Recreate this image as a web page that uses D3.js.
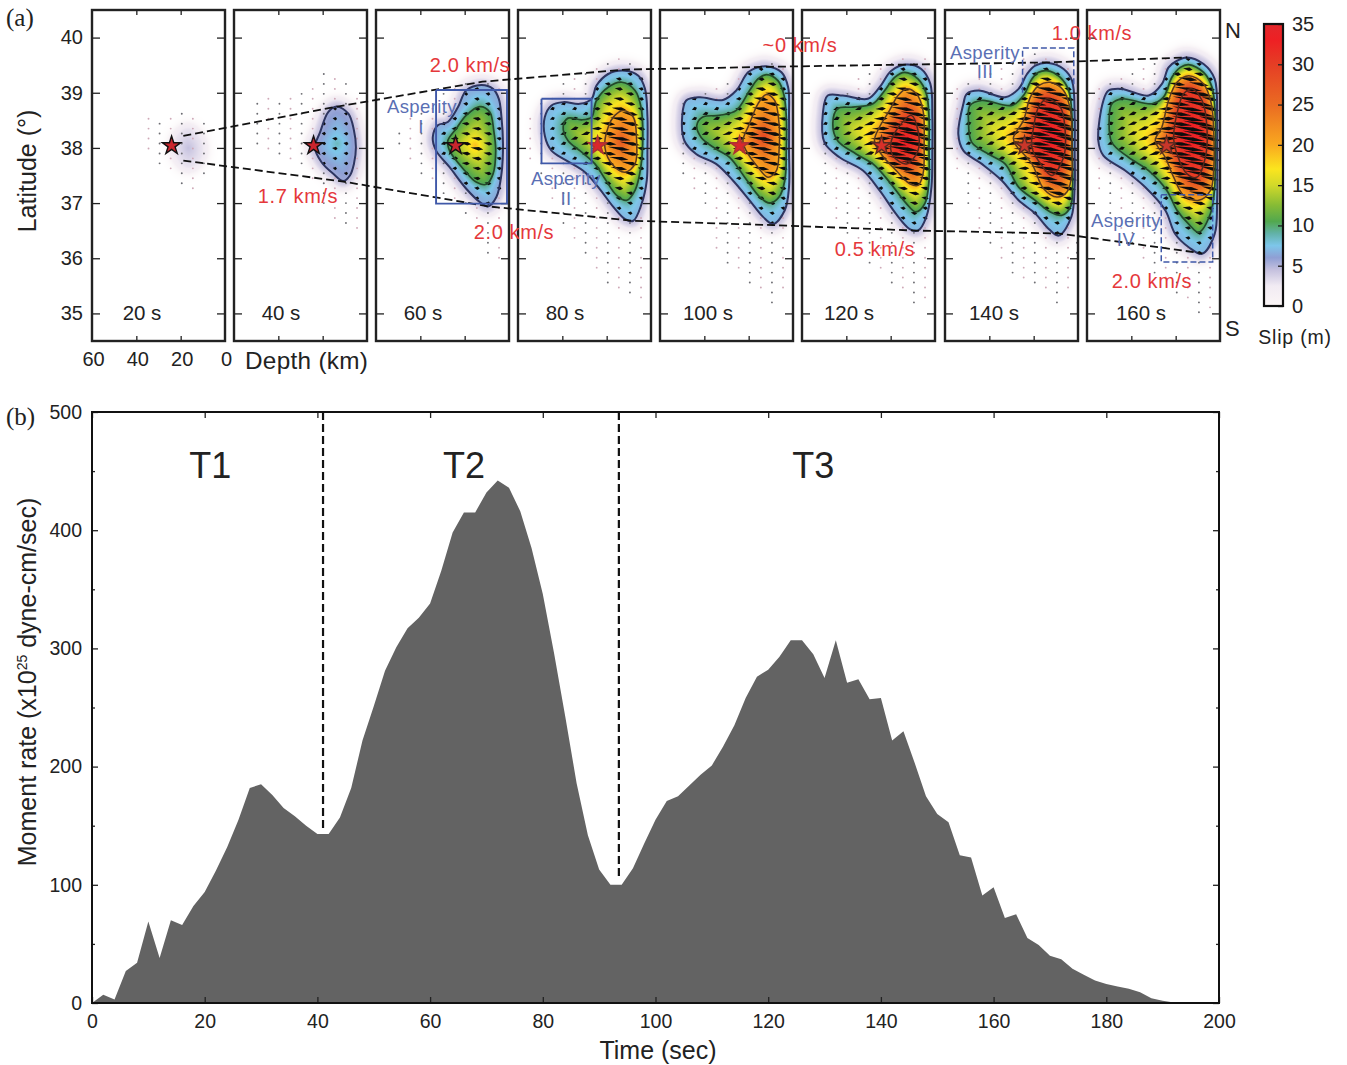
<!DOCTYPE html>
<html>
<head>
<meta charset="utf-8">
<style>
  html, body { margin: 0; padding: 0; background: #fff; }
  text { font-family: "Liberation Sans", Arial, sans-serif; fill: #222; }
  .axis path.domain { display: none; }
  .axis line { stroke: #222; stroke-width: 1.3; }
</style>
<script src="https://d3js.org/d3.v7.min.js"></script>
</head>
<body>
<div id="chart"></div>
<script>
// ---- moment rate curve, panel (b)
var timeSec = [0,2,4,6,8,10,12,14,16,18,20,22,24,26,28,30,32,34,36,38,40,42,44,46,48,50,52,54,56,58,60,62,64,66,68,70,72,74,76,78,80,82,84,86,88,90,92,94,96,98,100,102,104,106,108,110,112,114,116,118,120,122,124,126,128,130,132,134,136,138,140,142,144,146,148,150,152,154,156,158,160,162,164,166,168,170,172,174,176,178,180,182,184,186,188,190,192,194,196,198,200];
var momentRate = [0,7,3,27,34,69,38,70,66,82,94,112,132,155,182,185,176,165,158,150,143,143,157,182,222,251,281,301,317,326,338,366,398,415,415,432,442,436,416,385,346,296,242,186,142,113,100,100,114,135,155,171,175,184,193,201,217,235,258,276,282,293,307,307,295,275,307,271,274,257,258,222,230,203,175,160,153,125,123,91,98,72,75,55,49,40,37,29,24,19,16,14,12,9,4,2,0.5,0,0,0,0];
var stageBreaks = [41, 93.5];
var stageBreakEnds = [145, 105];
var stageNames = ["T1", "T2", "T3"];
var stageNameTimes = [21, 66, 128];
var timeTicks = [0,20,40,60,80,100,120,140,160,180,200];
var rateTicks = [0,100,200,300,400,500];
var rateMinorTicks = [50,150,250,350,450];

// ---- snapshots, panel (a)
var snapshotLabels = ["20 s","40 s","60 s","80 s","100 s","120 s","140 s","160 s"];
var latTicks = [35,36,37,38,39,40];
var depthTicks = [60,40,20,0];
var slipTicks = [0,5,10,15,20,25,30,35];
var starDepth = 24.1;
var starLat = 38.04;

// slip level of each contour, outermost first (outer level differs in early frames)
var outerLevels = [3,5.5,6.5,7,7,7,7,7];
var innerLevels = [10,20,30];
var peakSlip = [4.5,8.5,19,27,29,34,35,35];

// contours as [depth km, latitude], outermost first
var contours20 = [
  [[16.6,38.3],[12,38.1],[12,37.85],[16.6,37.7],[21,37.9],[21,38.15]]
];
var contours40 = [
  [[13.7,38.75],[8.4,38.62],[5.9,38.32],[5,38.01],[5.9,37.71],[7.7,37.5],[10.7,37.4],[15.2,37.53],[20.5,37.74],[23.5,38.01],[21.2,38.28],[17.5,38.65]]
];
var contours60 = [
  [[12.5,39.14],[7.2,39.07],[4.6,38.89],[3.4,38.56],[2.7,38.07],[3.4,37.53],[5.7,37.11],[9.5,36.94],[13.2,37.02],[19.3,37.26],[26.8,37.65],[32.9,37.95],[34.4,38.19],[32.1,38.41],[27.6,38.47],[23,38.74],[19.3,39.04]],
  [[13.2,38.75],[8.7,38.65],[6.9,38.32],[6,37.95],[7.2,37.53],[10.2,37.34],[14.8,37.38],[20,37.59],[26.8,37.95],[27.6,38.13],[23.8,38.35],[19.3,38.59]]
];
var contours80 = [
  [[11.7,39.4],[5.7,39.31],[2.7,39.07],[1.6,38.56],[1.6,37.95],[1.9,37.41],[4.2,36.99],[8,36.68],[11.7,36.71],[17,36.93],[23.8,37.29],[29.8,37.56],[38.1,37.77],[44.9,37.95],[47.9,38.22],[47.9,38.56],[44.9,38.77],[39.6,38.83],[32.1,38.8],[26.8,38.89],[24.6,39.13],[19.3,39.34]],
  [[13.2,39.19],[7.2,39.04],[4.5,38.74],[3.7,38.25],[4.6,37.65],[7.2,37.23],[11,37.05],[15.5,37.14],[20.8,37.44],[25.3,37.71],[32.1,37.95],[37.4,38.13],[39.6,38.38],[37.4,38.54],[31.3,38.51],[26.8,38.56],[24.6,38.86],[19.3,39.1]],
  [[12.5,38.68],[8,38.56],[6.5,38.13],[7.2,37.71],[11.7,37.56],[17,37.68],[20.8,38.01],[19.3,38.38],[16.3,38.59]]
];
var contours100 = [
  [[12,39.48],[5.2,39.37],[2.2,39.1],[1.8,38.56],[1.8,37.95],[1.8,37.29],[3.7,36.87],[9,36.62],[13.5,36.75],[19.6,37.05],[27.1,37.41],[34.7,37.71],[43.7,37.89],[49,38.13],[50,38.56],[48.2,38.86],[42.2,38.92],[31.6,38.87],[25.6,39.04],[20.3,39.37],[15.8,39.46]],
  [[12,39.33],[6.8,39.22],[4.2,38.98],[3,38.56],[3,37.95],[3.7,37.41],[6.3,37.11],[10.5,37],[15,37.11],[21.8,37.47],[28.6,37.83],[34.7,37.98],[41.4,38.19],[43.4,38.41],[40.7,38.56],[33.2,38.59],[25.6,38.68],[19.6,39.04],[15.8,39.25]],
  [[12,38.97],[8.3,38.86],[6.3,38.44],[6.3,37.95],[7.5,37.59],[11.3,37.47],[15.8,37.65],[21.1,37.95],[22.6,38.13],[19.6,38.44],[15.8,38.8]]
];
var contours120 = [
  [[12.9,39.51],[6.2,39.43],[2.1,39.16],[1.2,38.56],[1.2,37.95],[1.6,37.29],[3.9,36.75],[7.7,36.5],[11.4,36.53],[17.5,36.8],[25,37.23],[32.5,37.59],[43.1,37.83],[49.9,38.1],[50.6,38.62],[48.4,38.95],[41.6,38.95],[30.3,38.89],[25,39.1],[19.7,39.4]],
  [[13.7,39.37],[7.7,39.25],[3.9,38.98],[2.7,38.56],[2.7,37.95],[2.7,37.41],[4.6,36.99],[8.7,36.84],[12.9,36.99],[20.5,37.38],[28,37.71],[35.6,37.89],[43.9,38.13],[46.1,38.44],[43.9,38.71],[37.1,38.74],[28,38.8],[22.7,39.04],[18.2,39.28]],
  [[12.9,39.07],[8.4,38.98],[5.4,38.68],[4.9,38.07],[5.4,37.53],[7.7,37.32],[11.4,37.35],[17.5,37.59],[24.3,37.89],[27.3,38.13],[25,38.38],[20.5,38.68],[16.7,38.95]],
  [[10.7,38.59],[7.7,38.32],[7.7,37.95],[12.9,37.71],[19,37.86],[19.7,38.13],[15.2,38.44]]
];
var contours140 = [
  [[13.2,39.54],[6.5,39.43],[2.7,39.22],[1.5,38.56],[1.5,37.95],[1.5,37.29],[3,36.75],[8.7,36.41],[13.2,36.53],[19.3,36.81],[26.8,37.05],[34.4,37.41],[43.4,37.71],[51.7,37.95],[54,38.25],[51.7,38.8],[50.2,38.98],[44.9,39.04],[32.9,38.92],[26.8,39.07],[23,39.34],[19.3,39.49]],
  [[14,39.4],[8,39.28],[4.2,39.04],[2.7,38.56],[2.7,37.95],[2.4,37.35],[3.4,36.93],[7.2,36.78],[12.5,36.84],[19.3,37.05],[26.8,37.29],[32.9,37.71],[40.4,37.89],[47.9,38.1],[49.4,38.5],[48.7,38.77],[43.4,38.86],[29.8,38.77],[24.6,38.95],[20.8,39.25],[17.8,39.37]],
  [[12.5,39.19],[6.5,39.04],[3.4,38.68],[2.7,38.13],[2.7,37.53],[5,37.2],[9.5,37.11],[15.5,37.26],[20.8,37.71],[28.3,38.07],[29.1,38.19],[24.6,38.5],[21.5,38.92],[17.8,39.13]],
  [[14,38.89],[8,38.74],[5.7,38.25],[6.5,37.83],[11.7,37.5],[16.3,37.68],[20.8,38.01],[20,38.38],[17.8,38.74]]
];
var contours160 = [
  [[14.9,39.64],[7.4,39.52],[2.4,39.25],[1.3,38.56],[1.3,37.95],[1.3,37.05],[2.4,36.44],[8.1,36.08],[14.1,36.2],[20.2,36.44],[24.7,36.87],[33.8,37.29],[42.8,37.59],[52.6,37.86],[54.9,38.13],[52.6,38.86],[50.3,39.04],[44.3,39.07],[32.2,38.95],[26.2,39.16],[23.2,39.46],[19.4,39.58]],
  [[14.1,39.51],[7.4,39.37],[3.6,39.1],[2.1,38.56],[2.1,37.95],[2.4,37.29],[4.3,36.81],[9.6,36.47],[14.1,36.62],[19.4,36.87],[24,37.23],[32.2,37.59],[41.3,37.83],[48.8,38.1],[50,38.5],[48.8,38.8],[44.3,38.89],[30.7,38.8],[25.5,38.92],[21.7,39.28],[17.9,39.46]],
  [[14.1,39.31],[7.4,39.16],[3.9,38.8],[2.8,38.25],[2.8,37.65],[4.3,37.23],[9.6,37.05],[16.4,37.14],[20.9,37.47],[24.7,37.83],[29.2,38.13],[26.2,38.38],[23.2,38.86],[19.4,39.19]],
  [[12.6,39.07],[8.1,38.86],[5.9,38.38],[6.6,37.83],[10.4,37.47],[14.9,37.53],[19.4,37.89],[20.9,38.19],[18.7,38.74],[16.4,38.98]]
];
var allContours = [contours20,contours40,contours60,contours80,contours100,contours120,contours140,contours160];

// where the little subfault dots show up in each frame
var dotArea20 = [[39.2,38.35],[33.9,38.56],[19.6,38.74],[11.3,38.68],[5.2,38.07],[5.2,37.53],[14.3,37.23],[19.6,37.29],[29.4,37.71],[39.2,38.19]];
var dotArea40 = [[49.1,38.98],[33.3,38.95],[19,39.43],[4.6,39.1],[3.9,37.65],[3.9,36.5],[9.2,36.5],[19,36.81],[27.3,37.59],[48.4,38.01],[53.7,38.13]];
var dotArea60 = [[54,38.13],[47.9,38.5],[19.3,39.25],[4.2,39.22],[1.2,37.65],[4.2,35.93],[10.2,35.93],[19.3,36.81],[32.9,37.29],[47.9,37.83]];
var dotArea80 = [[54.7,38.68],[29.1,39.52],[14,39.73],[2.7,39.46],[1,35.36],[6.5,35.18],[14,35.3],[34.4,36.2],[48.7,37.29],[54.7,37.77]];
var dotArea100 = [[52.8,38.74],[34.7,39.22],[13.5,39.61],[1.5,39.46],[1,35.48],[9,35.08],[16.6,35.42],[33.9,36.02],[37.7,36.81],[51.3,37.65]];
var dotArea120 = [[53.7,38.68],[35.6,39.28],[14.4,39.73],[0.9,39.58],[0.9,35.24],[9.2,35.08],[29.5,35.9],[49.1,36.93],[52.9,37.83]];
var dotArea140 = [[58.5,38.98],[34.4,39.64],[13.2,39.76],[1.2,39.46],[0.4,35.96],[7.2,35.05],[14.8,35.36],[34.4,35.84],[49.4,36.81],[55.5,37.59]];
var dotArea160 = [[58.6,38.98],[35.3,39.52],[14.1,39.76],[0.5,39.46],[0.5,35.24],[8.1,34.96],[17.2,35.24],[32.2,35.78],[51.9,36.81],[57.9,37.77]];
var allDotAreas = [dotArea20,dotArea40,dotArea60,dotArea80,dotArea100,dotArea120,dotArea140,dotArea160];

var gridDepths = [0.5,4.5,9.5,14.5,19.5,24.5,29.5,34.5,39.5,44.5,49.5,54.5,59.5];
var gridLatsA = [35.02,35.2,35.38,35.56,35.74,35.92,36.1,36.28,36.46,36.64,36.82,37,37.18,37.36,37.54,37.72,37.9,38.08,38.26,38.44,38.62,38.8,38.98,39.16,39.34,39.52,39.7];
var gridLatsB = [35.11,35.29,35.47,35.65,35.83,36.01,36.19,36.37,36.55,36.73,36.91,37.09,37.27,37.45,37.63,37.81,37.99,38.17,38.35,38.53,38.71,38.89,39.07,39.25,39.43,39.61,39.79];
// rake of the slip vectors against depth
var rakeDepths = [55,30,22,0];
var rakeAngles = [-22,-18,6,13];
// vector length (px) against slip (m)
var lengthSlips = [0,7,12,17,20,30,35];
var lengthPixels = [0,5,8,12,16,30,36];

// rupture front, [frame, depth km, latitude]
var frontNorth = [[0,18.8,38.22],[1,13.4,38.75],[2,12,39.2],[3,11.6,39.42],[4,11.6,39.47],[5,12.5,39.51],[6,13.4,39.55],[7,14.8,39.64]];
var frontSouth = [[0,18.8,37.77],[1,10.7,37.39],[2,9.3,36.94],[3,8,36.68],[4,8.9,36.6],[5,7.5,36.5],[6,8.9,36.45],[7,8,36.09]];

// asperity outlines, frame and [depth km, latitude]
var asperityFrames = [2,3,6,7];
var asperityOutlines = [
  [[32.9,39.05],[0.9,39.05],[0.9,36.99],[32.9,36.99],[32.9,39.05]],
  [[49.4,38.89],[26.8,38.89],[26.8,37.72],[49.4,37.72],[49.4,38.89]],
  [[25,39.0],[25,39.81],[1.9,39.81],[1.9,39.15]],
  [[26.5,37.15],[3.3,37.15],[3.3,35.93],[26.5,35.93],[26.5,37.15]]
];
var asperityDashed = [false,false,true,true];
var asperityNames = ["Asperity","I","Asperity","II","Asperity","III","Asperity","IV"];
var speedNames = ["2.0 km/s","1.7 km/s","2.0 km/s","~0 km/s","1.0 km/s","0.5 km/s","2.0 km/s"];

// colour table
var slipStops = [0,2.5,4.5,6,7.5,9,10.5,12.5,15,17,20,25,30,33,35];
var slipColors = ["#fbf6f6","#f1ebf3","#c4c0de","#8f9fd4","#7dc6ea","#62b2a8","#52a84e","#86bb35","#d2d92a","#fbe51e","#f9a81f","#ea6b22","#e53e25","#ee2024","#e2272b"];

// ---- layout
var svgWidth = 1347;
var svgHeight = 1065;
var panelLefts = [92,234,376,518,660,802,945,1087];
var panelW = 133;
var panelTop = 10;
var panelH = 331;

var svg = d3.select("#chart")
  .append("svg")
  .attr("width", svgWidth)
  .attr("height", svgHeight)
  .style("display", "block");

var xDepth = d3.scaleLinear().domain([60, 0]).range([0, panelW]);
var yLat = d3.scaleLinear().domain([34.5, 40.5]).range([panelH, 0]);
var slipColor = d3.scaleLinear().domain(slipStops).range(slipColors);
var rakeScale = d3.scaleLinear().domain(rakeDepths).range(rakeAngles);
var arrowLength = d3.scaleLinear().domain(lengthSlips).range(lengthPixels);

var ringLine = d3.line()
  .x(d => xDepth(d[0]))
  .y(d => yLat(d[1]))
  .curve(d3.curveCatmullRomClosed.alpha(0.5));

// Turn a contour into a dense list of points so distances are easy to get
function sampleRing(ring) {
  var path = svg.append("path").attr("d", ringLine(ring)).attr("fill", "none");
  var node = path.node();
  var total = node.getTotalLength();
  var points = [];
  for (var l = 0; l < total; l += 1.5) {
    var p = node.getPointAtLength(l);
    points.push([p.x, p.y]);
  }
  path.remove();
  return points;
}

function ringDistance(points, x, y) {
  var best = Infinity;
  for (var i = 0; i < points.length; i++) {
    var dx = points[i][0] - x, dy = points[i][1] - y;
    var d = dx * dx + dy * dy;
    if (d < best) best = d;
  }
  return Math.sqrt(best);
}

// Slip between contours, blended by the distance to the rings on either side
function slipAt(field, x, y) {
  var rings = field.rings;
  var inside = -1;
  for (var k = 0; k < rings.length; k++) {
    if (d3.polygonContains(rings[k], [x, y])) inside = k; else break;
  }
  if (inside < 0) {
    var far = ringDistance(rings[0], x, y);
    if (far > 30) return 0;
    return Math.min(field.levels[0], 4.4) * Math.exp(-(far * far) / 95);
  }
  var d1 = ringDistance(rings[inside], x, y);
  if (inside === rings.length - 1) {
    var dc = Math.hypot(x - field.centre[0], y - field.centre[1]);
    return field.levels[inside] + (field.peak - field.levels[inside]) * d1 / (d1 + dc);
  }
  var d2 = ringDistance(rings[inside + 1], x, y);
  var t = d1 / (d1 + d2);
  if (inside === 0) t = t * t;
  return field.levels[inside] + (field.levels[inside + 1] - field.levels[inside]) * t;
}

var fields = allContours.map((contours, i) => {
  var rings = contours.map(sampleRing);
  return {
    rings: rings,
    levels: [outerLevels[i]].concat(innerLevels).slice(0, rings.length),
    peak: peakSlip[i],
    centre: d3.polygonCentroid(rings[rings.length - 1])
  };
});

function slipImage(field) {
  var canvas = document.createElement("canvas");
  canvas.width = panelW;
  canvas.height = panelH;
  var ctx = canvas.getContext("2d");
  var img = ctx.createImageData(panelW, panelH);
  for (var py = 0; py < panelH; py++) {
    for (var px = 0; px < panelW; px++) {
      var s = slipAt(field, px + 0.5, py + 0.5);
      var c = d3.rgb(slipColor(s));
      var o = (py * panelW + px) * 4;
      img.data[o] = c.r;
      img.data[o + 1] = c.g;
      img.data[o + 2] = c.b;
      // fades to the white page where there is next to no slip
      img.data[o + 3] = 255 * Math.min(1, s / 1.5);
    }
  }
  ctx.putImageData(img, 0, 0);
  return canvas.toDataURL();
}

// ---- panel (a) frames
var defs = svg.append("defs");
defs.append("clipPath").attr("id", "panelClip")
  .append("rect").attr("width", panelW).attr("height", panelH);
// the printed figure is a little soft
defs.append("filter").attr("id", "soft")
  .append("feGaussianBlur").attr("stdDeviation", 0.4);

var contourStrokes = ["#2d3560", "#24482a", "#5a3a1e", "#55261a"];
var contourWidths = [2, 1.7, 1.5, 1.5];
var starFills = ["#c9252d","#c9252d","#c9252d","#d9262c","#d9262c","#d8302a","#c8362a","#c8362a"];
var starStrokes = ["#111","#111","#111","#a33","#a33","#5a2a20","#5a2a20","#5a2a20"];

panelLefts.forEach((left, i) => {
  var g = svg.append("g").attr("transform", `translate(${left}, ${panelTop})`);

  g.append("image")
    .attr("width", panelW)
    .attr("height", panelH)
    .attr("href", slipImage(fields[i]));

  // Subfault vectors inside the slip patch, dots outside it
  var clipped = g.append("g").attr("clip-path", "url(#panelClip)");
  var marks = clipped.append("g").attr("filter", "url(#soft)");
  var dotRing = allDotAreas[i].map(d => [xDepth(d[0]), yLat(d[1])]);
  gridDepths.forEach((depth, col) => {
    var lats = col % 2 ? gridLatsB : gridLatsA;
    lats.forEach(lat => {
      var x = xDepth(depth), y = yLat(lat);
      var inPatch = i > 0 && d3.polygonContains(fields[i].rings[0], [x, y]);
      if (inPatch) {
        var len = arrowLength(slipAt(fields[i], x, y));
        var a = rakeScale(depth) * Math.PI / 180;
        var ux = Math.cos(a), uy = Math.sin(a);
        var hx = x + ux * len * 0.15, hy = y + uy * len * 0.15;
        marks.append("path")
          .attr("d", `M${x - ux * len / 2},${y - uy * len / 2}L${hx - uy * 1.8},${hy + ux * 1.8}L${x + ux * len / 2},${y + uy * len / 2}L${hx + uy * 1.8},${hy - ux * 1.8}Z`)
          .attr("fill", "#0c0c0c");
      } else if (d3.polygonContains(dotRing, [x, y])) {
        marks.append("circle")
          .attr("cx", x)
          .attr("cy", y)
          .attr("r", 0.95)
          .attr("fill", col % 2 ? "#cfa9b8" : "#6d6d72");
      }
    });
  });

  // Contours (the 20 s frame only has a faint patch, no line)
  if (i > 0) {
    allContours[i].forEach((ring, k) => {
      marks.append("path")
        .attr("d", ringLine(ring))
        .attr("fill", "none")
        .attr("stroke", contourStrokes[k])
        .attr("stroke-width", contourWidths[k]);
    });
  }

  g.append("path")
    .attr("d", d3.symbol(d3.symbolStar).size(105)())
    .attr("transform", `translate(${xDepth(starDepth)}, ${yLat(starLat)})`)
    .attr("fill", starFills[i])
    .attr("stroke", starStrokes[i])
    .attr("stroke-width", 1.4);

  // Inward ticks on all four sides
  g.append("g").attr("class", "axis")
    .call(d3.axisLeft(yLat).tickValues(latTicks).tickSize(-8).tickFormat(""));
  g.append("g").attr("class", "axis")
    .attr("transform", `translate(${panelW}, 0)`)
    .call(d3.axisRight(yLat).tickValues(latTicks).tickSize(-8).tickFormat(""));
  g.append("g").attr("class", "axis")
    .call(d3.axisTop(xDepth).tickValues([40, 20]).tickSize(-5).tickFormat(""));
  g.append("g").attr("class", "axis")
    .attr("transform", `translate(0, ${panelH})`)
    .call(d3.axisBottom(xDepth).tickValues([40, 20]).tickSize(-5).tickFormat(""));

  g.append("rect")
    .attr("width", panelW)
    .attr("height", panelH)
    .attr("fill", "none")
    .attr("stroke", "#222")
    .attr("stroke-width", 2.4);
});

var snapshotCentres = [142,281,423,565,708,849,994,1141];
snapshotLabels.forEach((label, i) => {
  svg.append("text").attr("x", snapshotCentres[i]).attr("y", 320)
    .attr("text-anchor", "middle").attr("font-size", 20.5)
    .text(label);
});

// Rupture front dashed lines across frames
var frontLine = d3.line()
  .x(d => panelLefts[d[0]] + xDepth(d[1]))
  .y(d => panelTop + yLat(d[2]));
[frontNorth, frontSouth].forEach(front => {
  svg.append("path")
    .attr("d", frontLine(front))
    .attr("fill", "none")
    .attr("stroke", "#111")
    .attr("stroke-width", 1.8)
    .attr("stroke-dasharray", "8 4");
});

// Asperity boxes
var boxLine = d3.line().x(d => xDepth(d[0])).y(d => yLat(d[1]));
asperityOutlines.forEach((box, i) => {
  svg.append("path")
    .attr("transform", `translate(${panelLefts[asperityFrames[i]]}, ${panelTop})`)
    .attr("d", boxLine(box))
    .attr("fill", "none")
    .attr("stroke", "#3f58a8")
    .attr("stroke-width", asperityDashed[i] ? 1.5 : 1.9)
    .attr("stroke-dasharray", asperityDashed[i] ? "6 3" : null);
});

// Annotations
var asperityPos = [[422,113],[421,133],[566,185],[566,205],[985,59],[985,78],[1126,227],[1126,246]];
asperityNames.forEach((name, i) => {
  svg.append("text").attr("x", asperityPos[i][0]).attr("y", asperityPos[i][1])
    .attr("text-anchor", "middle").attr("font-size", 18.5)
    .style("fill", "#5a6fb4").style("letter-spacing", "0.4px")
    .text(name);
});
var speedPos = [[470,72],[298,203],[514,239],[800,52],[1092,40],[875,256],[1152,288]];
speedNames.forEach((name, i) => {
  svg.append("text").attr("x", speedPos[i][0]).attr("y", speedPos[i][1])
    .attr("text-anchor", "middle").attr("font-size", 20)
    .style("fill", "#e5383b").style("letter-spacing", "0.6px")
    .text(name);
});

// Latitude and depth labels on the first frame only
var latAxis = svg.append("g").attr("class", "axis")
  .attr("transform", `translate(${panelLefts[0]}, ${panelTop})`)
  .call(d3.axisLeft(yLat).tickValues(latTicks).tickSize(0).tickPadding(9).tickFormat(d3.format("d")));
latAxis.selectAll("line").remove();
latAxis.selectAll("text").attr("font-size", 20);

var depthAxis = svg.append("g").attr("class", "axis")
  .attr("transform", `translate(${panelLefts[0] + 1}, ${panelTop + panelH})`)
  .call(d3.axisBottom(xDepth).tickValues(depthTicks).tickSize(0).tickPadding(11));
depthAxis.selectAll("line").remove();
depthAxis.selectAll("text").attr("font-size", 20);

svg.append("text").attr("x", 245).attr("y", 369).attr("font-size", 24.3)
  .style("letter-spacing", "0.3px").text("Depth (km)");
svg.append("text")
  .attr("transform", "translate(36, 171) rotate(-90)")
  .attr("text-anchor", "middle").attr("font-size", 25)
  .text("Latitude (°)");
svg.append("text").attr("x", 1225).attr("y", 38).attr("font-size", 22).text("N");
svg.append("text").attr("x", 1225).attr("y", 336).attr("font-size", 22).text("S");
svg.append("text").attr("x", 6).attr("y", 26).attr("font-size", 25)
  .style("font-family", "'Liberation Serif', serif").text("(a)");
svg.append("text").attr("x", 6).attr("y", 425).attr("font-size", 25)
  .style("font-family", "'Liberation Serif', serif").text("(b)");

// ---- slip colour bar
var ySlip = d3.scaleLinear().domain([0, 35]).range([306, 24]);
var barLeft = 1264, barW = 19;
var gradient = defs.append("linearGradient").attr("id", "slipBar")
  .attr("x1", 0).attr("y1", 1).attr("x2", 0).attr("y2", 0);
slipStops.forEach((s, i) => {
  gradient.append("stop").attr("offset", s / 35).attr("stop-color", slipColors[i]);
});
svg.append("rect")
  .attr("x", barLeft).attr("y", ySlip(35))
  .attr("width", barW).attr("height", ySlip(0) - ySlip(35))
  .attr("fill", "url(#slipBar)");
var barAxis = svg.append("g").attr("class", "axis")
  .attr("transform", `translate(${barLeft + barW}, 0)`)
  .call(d3.axisRight(ySlip).tickValues(slipTicks).tickSize(-5).tickPadding(9));
barAxis.selectAll("text").attr("font-size", 20);
svg.append("rect")
  .attr("x", barLeft).attr("y", ySlip(35))
  .attr("width", barW).attr("height", ySlip(0) - ySlip(35))
  .attr("fill", "none").attr("stroke", "#111").attr("stroke-width", 2.2);
svg.append("text").attr("x", 1295).attr("y", 344)
  .attr("text-anchor", "middle").attr("font-size", 19.5).style("letter-spacing", "0.8px")
  .text("Slip (m)");

// ---- panel (b)
var chartLeft = 92, chartTop = 412, chartW = 1127, chartH = 591;
var xTime = d3.scaleLinear().domain([0, 200]).range([0, chartW]);
var yRate = d3.scaleLinear().domain([0, 500]).range([chartH, 0]);
var chartGroup = svg.append("g").attr("transform", `translate(${chartLeft}, ${chartTop})`);

var rateArea = d3.area()
  .x(d => xTime(d[0]))
  .y0(yRate(0))
  .y1(d => yRate(d[1]));
chartGroup.append("path")
  .attr("d", rateArea(d3.zip(timeSec, momentRate)))
  .attr("fill", "#636363");

stageBreaks.forEach((t, i) => {
  chartGroup.append("line")
    .attr("x1", xTime(t)).attr("x2", xTime(t))
    .attr("y1", yRate(500)).attr("y2", yRate(stageBreakEnds[i]))
    .attr("stroke", "#111").attr("stroke-width", 2.2).attr("stroke-dasharray", "8 4");
});
stageNames.forEach((name, i) => {
  chartGroup.append("text")
    .attr("x", xTime(stageNameTimes[i]))
    .attr("y", yRate(444))
    .attr("text-anchor", "middle").attr("font-size", 36)
    .text(name);
});

var bottomAxis = d3.axisBottom(xTime).tickValues(timeTicks).tickSize(-6).tickPadding(11);
var leftAxis = d3.axisLeft(yRate).tickValues(rateTicks).tickSize(-6).tickPadding(10);
var xAxisG = chartGroup.append("g").attr("class", "axis")
  .attr("transform", `translate(0, ${chartH})`).call(bottomAxis);
xAxisG.selectAll("text").attr("font-size", 19.5);
var yAxisG = chartGroup.append("g").attr("class", "axis").call(leftAxis);
yAxisG.selectAll("text").attr("font-size", 19.5);
chartGroup.append("g").attr("class", "axis")
  .call(d3.axisTop(xTime).tickValues(timeTicks).tickSize(-6).tickFormat(""));
chartGroup.append("g").attr("class", "axis")
  .attr("transform", `translate(${chartW}, 0)`)
  .call(d3.axisRight(yRate).tickValues(rateTicks).tickSize(-6).tickFormat(""));
chartGroup.append("g").attr("class", "axis")
  .call(d3.axisLeft(yRate).tickValues(rateMinorTicks).tickSize(-3).tickFormat(""));
chartGroup.append("g").attr("class", "axis")
  .attr("transform", `translate(${chartW}, 0)`)
  .call(d3.axisRight(yRate).tickValues(rateMinorTicks).tickSize(-3).tickFormat(""));

chartGroup.append("rect")
  .attr("width", chartW).attr("height", chartH)
  .attr("fill", "none").attr("stroke", "#111").attr("stroke-width", 2);

svg.append("text").attr("x", 658).attr("y", 1059)
  .attr("text-anchor", "middle").attr("font-size", 25)
  .text("Time (sec)");

var rateTitle = svg.append("text")
  .attr("transform", "translate(36, 682) rotate(-90)")
  .attr("text-anchor", "middle").attr("font-size", 25);
rateTitle.append("tspan").text("Moment rate (x10");
rateTitle.append("tspan").attr("font-size", 14).attr("dy", -9).text("25");
rateTitle.append("tspan").attr("dy", 9).text(" dyne-cm/sec)");

// Axis text picks up the page font
svg.selectAll(".axis text").style("fill", "#222").style("font-family", "'Liberation Sans', Arial, sans-serif");
</script>
</body>
</html>
